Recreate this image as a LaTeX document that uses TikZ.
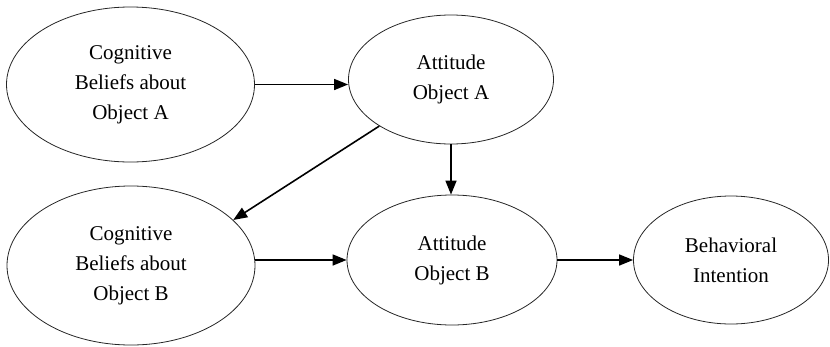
\documentclass[tikz,border=0pt]{standalone}
\usepackage{fontspec}
\setmainfont{Liberation Serif}
\usetikzlibrary{shapes.geometric,arrows.meta}
\tikzset{
  oval/.style={ellipse, draw=black!85, line width=0.8pt, inner sep=0pt, align=center,
    font=\fontsize{21}{30}\selectfont},
  arr/.style={line width=1.6pt, -{Triangle[length=14pt,width=11pt]}}
}
\begin{document}
\begin{tikzpicture}[x=1pt,y=-1pt]
\useasboundingbox (0,0) rectangle (830,346);
\node[oval, minimum width=248pt, minimum height=155pt] (e1) at (130.5,84.5) {Cognitive\\Beliefs about\\Object A};
\node[oval, minimum width=205pt, minimum height=129pt] (e2) at (451,79.5) {Attitude\\Object A};
\node[oval, minimum width=248pt, minimum height=159pt] (e3) at (131,265.5) {Cognitive\\Beliefs about\\Object B};
\node[oval, minimum width=210pt, minimum height=130pt] (e4) at (452,260) {Attitude\\Object B};
\node[oval, minimum width=195pt, minimum height=128pt] (e5) at (731,260) {Behavioral\\Intention};
\draw[arr] (e1.east) -- (e1.east -| e2.west);
\draw[arr] (e2.south) -- (e2.south |- e4.north);
\draw[arr] (e2.213) -- (e3.24);
\draw[arr] (e3.east |- e4.west) -- (e4.west);
\draw[arr] (e4.east) -- (e5.west);
\end{tikzpicture}
\end{document}
